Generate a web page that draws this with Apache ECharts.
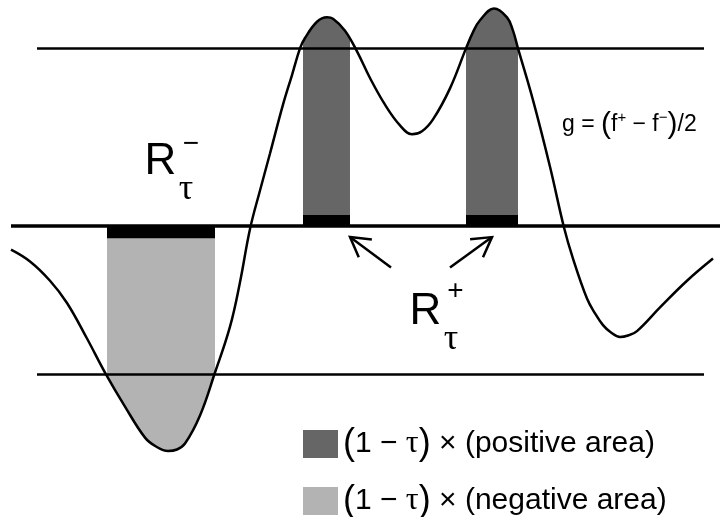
<!DOCTYPE html>
<html>
<head>
<meta charset="utf-8">
<script src="https://cdn.jsdelivr.net/npm/echarts@6/dist/echarts.min.js"></script>
<style>
  html, body { margin: 0; padding: 0; background: #fff; }
  #chart { width: 720px; height: 517px; }
</style>
</head>
<body>
<div id="chart"></div>
<script>
// the curve g = (f+ - f-)/2
var curveX = [1.1, 3.0, 5.0, 6.7, 8.7, 10.5, 12.5, 14.5, 15.6, 16.8, 17.7, 18.5, 20.0, 21.5, 23.0, 24.0, 25.0, 26.0, 27.0, 28.3, 29.2, 30.0, 30.5, 31.7, 32.7, 33.3, 34.5, 35.7, 37.0, 38.5, 40.0, 41.2, 42.2, 43.3, 45.0, 46.6, 47.3, 48.0, 49.4, 50.7, 51.3, 51.8, 53.3, 55.0, 56.4, 57.3, 58.7, 59.5, 60.3, 61.1, 62.0, 62.8, 63.7, 66.0, 68.7, 71.3]
var curveY = [-0.16, -0.24, -0.37, -0.52, -0.76, -0.99, -1.22, -1.43, -1.49, -1.52, -1.51, -1.47, -1.28, -0.99, -0.68, -0.38, -0.02, 0.24, 0.49, 0.82, 1.02, 1.20, 1.27, 1.38, 1.41, 1.40, 1.32, 1.18, 1.00, 0.82, 0.68, 0.62, 0.64, 0.72, 0.93, 1.20, 1.31, 1.39, 1.47, 1.41, 1.32, 1.20, 0.85, 0.40, -0.01, -0.22, -0.49, -0.59, -0.67, -0.72, -0.75, -0.74, -0.71, -0.55, -0.37, -0.22]

// shaded pieces (curve above / below the bars)
var posAreaX1 = [30.3, 30.5, 31.7, 32.7, 33.3, 34.5, 35.0]
var posAreaY1 = [1.23, 1.27, 1.38, 1.41, 1.40, 1.32, 1.26]
var posAreaX2 = [46.6, 47.3, 48.0, 49.4, 50.7, 51.3, 51.8]
var posAreaY2 = [1.20, 1.31, 1.39, 1.47, 1.41, 1.32, 1.20]
var negAreaX = [10.7, 12.5, 14.5, 15.6, 16.8, 17.7, 18.5, 20.0, 21.5]
var negAreaY = [-1.02, -1.22, -1.43, -1.49, -1.52, -1.51, -1.47, -1.28, -0.99]

// levels and regions
var upperLevel = 1.2
var lowerLevel = -1.0
var levelSpan = [3.7, 70.4]
var zeroSpan = [1.1, 72]
var posRegions = [[30.3, 35.0], [46.6, 51.8]]
var negRegions = [[10.7, 21.5]]

// arrows pointing at the R+ regions: [tailX, tailY, headX, headY]
var arrows = [[39.1, -0.28, 35.0, -0.075], [45.0, -0.28, 49.2, -0.075]]

var legendNames = ['(1 − τ) × (positive area)', '(1 − τ) × (negative area)']

var darkGray = '#666666'
var lightGray = '#b3b3b3'
var barThick = 0.074

function pairs(xs, ys) {
  var out = []
  for (var i = 0; i < xs.length; i++) out.push([xs[i], ys[i]])
  return out
}

function areaSeries(name, xs, ys, color) {
  return {
    name: name,
    type: 'line',
    smooth: 0.4,
    symbol: 'none',
    silent: true,
    z: 1,
    data: pairs(xs, ys),
    itemStyle: { color: color },
    lineStyle: { width: 0, color: color },
    areaStyle: { color: color, opacity: 1, origin: 0 }
  }
}

function barData(regions, y0, y1) {
  return regions.map(function (r) { return [r[0], r[1], y0, y1] })
}

var chart = echarts.init(document.getElementById('chart'), null, { renderer: 'canvas' })

var sansFont = 'Liberation Sans, Arial, sans-serif'
var serifFont = 'Liberation Serif, Times New Roman, serif'

var option = {
  animation: false,
  grid: { left: 0, right: 0, top: 4, height: 503.2 },
  xAxis: { type: 'value', min: 0, max: 72, show: false },
  yAxis: { type: 'value', min: -1.9, max: 1.5, show: false },
  legend: {
    orient: 'vertical',
    left: 303,
    top: 426,
    height: 120,
    padding: 0,
    itemWidth: 35,
    itemHeight: 28,
    itemGap: 21,
    icon: 'rect',
    selectedMode: false,
    data: [
      { name: legendNames[0], itemStyle: { color: darkGray } },
      { name: legendNames[1], itemStyle: { color: lightGray } }
    ],
    formatter: function (name) {
      return name.replace('(1 − τ)', '{p|(}1 − {t|τ}{p|)}')
    },
    textStyle: {
      color: '#000',
      fontSize: 30,
      lineHeight: 28,
      fontFamily: sansFont,
      rich: {
        p: { fontSize: 36, lineHeight: 28, fontFamily: sansFont, color: '#000' },
        t: { fontSize: 32, lineHeight: 28, fontFamily: serifFont, color: '#000' }
      }
    }
  },
  series: [
    areaSeries(legendNames[0], posAreaX1, posAreaY1, darkGray),
    areaSeries(legendNames[0], posAreaX2, posAreaY2, darkGray),
    areaSeries(legendNames[1], negAreaX, negAreaY, lightGray),
    {
      name: 'g',
      type: 'line',
      smooth: 0.4,
      symbol: 'none',
      silent: true,
      z: 2,
      data: pairs(curveX, curveY),
      lineStyle: { color: '#000', width: 2.5 },
      markLine: {
        silent: true,
        symbol: ['none', 'none'],
        label: { show: false },
        lineStyle: { color: '#000', type: 'solid', width: 2.5 },
        data: [
          [{ coord: [levelSpan[0], upperLevel] }, { coord: [levelSpan[1], upperLevel] }],
          [{ coord: [zeroSpan[0], 0], lineStyle: { width: 3.5 } }, { coord: [zeroSpan[1], 0] }],
          [{ coord: [levelSpan[0], lowerLevel] }, { coord: [levelSpan[1], lowerLevel] }]
        ]
      }
    },
    {
      // black bars marking R+ (above) and R- (below)
      type: 'custom',
      silent: true,
      z: 3,
      clip: false,
      encode: { x: [0, 1], y: [2, 3] },
      data: barData(posRegions, 0, barThick).concat(barData(negRegions, -barThick - 0.008, 0)),
      renderItem: function (params, api) {
        var a = api.coord([api.value(0), api.value(3)])
        var b = api.coord([api.value(1), api.value(2)])
        return {
          type: 'rect',
          shape: { x: a[0], y: a[1], width: b[0] - a[0], height: b[1] - a[1] },
          style: { fill: '#000' }
        }
      }
    },
    {
      type: 'custom',
      silent: true,
      z: 3,
      clip: false,
      encode: { x: [0, 2], y: [1, 3] },
      data: arrows,
      renderItem: function (params, api) {
        var t = api.coord([api.value(0), api.value(1)])
        var h = api.coord([api.value(2), api.value(3)])
        var ang = Math.atan2(t[1] - h[1], t[0] - h[0])
        var len = 22, spread = Math.PI / 6
        var p1 = [h[0] + len * Math.cos(ang - spread), h[1] + len * Math.sin(ang - spread)]
        var p2 = [h[0] + len * Math.cos(ang + spread), h[1] + len * Math.sin(ang + spread)]
        var st = { stroke: '#000', lineWidth: 2.5, fill: null }
        return {
          type: 'group',
          children: [
            { type: 'line', shape: { x1: t[0], y1: t[1], x2: h[0], y2: h[1] }, style: st },
            { type: 'polyline', shape: { points: [p1, h, p2] }, style: st }
          ]
        }
      }
    }
  ],
  graphic: [
    // R tau minus
    { type: 'text', x: 144.5, y: 161.8, style: { text: 'R', fontSize: 44, fontFamily: sansFont, fill: '#000', align: 'left', verticalAlign: 'middle' } },
    { type: 'text', x: 191, y: 144, style: { text: '−', fontSize: 28, fontFamily: sansFont, fill: '#000', align: 'center', verticalAlign: 'middle' } },
    { type: 'text', x: 186, y: 190, style: { text: 'τ', fontSize: 36, fontFamily: serifFont, fill: '#000', align: 'center', verticalAlign: 'middle' } },
    // R tau plus
    { type: 'text', x: 409.5, y: 311.8, style: { text: 'R', fontSize: 44, fontFamily: sansFont, fill: '#000', align: 'left', verticalAlign: 'middle' } },
    { type: 'text', x: 455.5, y: 291.5, style: { text: '+', fontSize: 28, fontFamily: sansFont, fill: '#000', align: 'center', verticalAlign: 'middle' } },
    { type: 'text', x: 451, y: 340, style: { text: 'τ', fontSize: 36, fontFamily: serifFont, fill: '#000', align: 'center', verticalAlign: 'middle' } },
    // curve label
    {
      type: 'text', x: 562, y: 125,
      style: {
        text: '{n|g = }{p|(}{n|f}{s|+}{n| − f}{s|−}{p|)}{n|/2}',
        fill: '#000', align: 'left', verticalAlign: 'middle',
        rich: {
          n: { fontSize: 23, fontFamily: sansFont, fill: '#000', lineHeight: 30 },
          p: { fontSize: 30, fontFamily: sansFont, fill: '#000', lineHeight: 30 },
          s: { fontSize: 15, fontFamily: sansFont, fill: '#000', verticalAlign: 'top', lineHeight: 15 }
        }
      }
    }
  ]
}

chart.setOption(option)
</script>
</body>
</html>
